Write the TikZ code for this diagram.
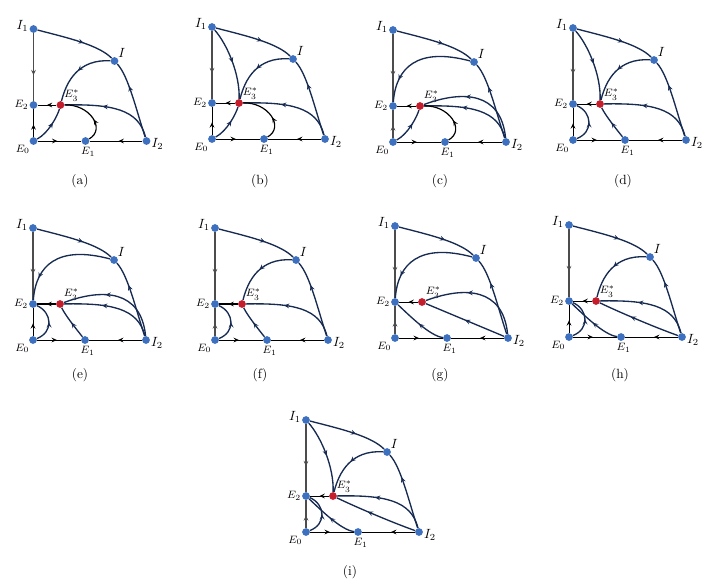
\documentclass[tikz,border=0pt]{standalone}
\usetikzlibrary{arrows.meta,decorations.markings}
\definecolor{dotblue}{RGB}{62,112,192}
\definecolor{dotred}{RGB}{196,30,45}
\definecolor{navy}{RGB}{22,42,82}
\tikzset{
 bdot/.style={circle,fill=dotblue,inner sep=0pt,minimum size=5.8pt},
 rdot/.style={circle,fill=dotred,inner sep=0pt,minimum size=5.8pt},
 ilbl/.style={font=\normalsize,inner sep=0.5pt},
 elbl/.style={font=\footnotesize,inner sep=0.5pt},
 ma/.style={postaction={decorate,decoration={markings,mark=at position #1 with {\arrow{Stealth[length=4pt,width=3.6pt,inset=1.5pt]}}}}},
 ma/.default=0.5,
 orb/.style={navy,line width=1pt},
 blk/.style={black,line width=0.75pt},
 axg/.style={black!70,line width=0.8pt},
 captxt/.style={font=\normalsize,inner sep=1pt}
}
\newcommand\basenodes{%
 \node[bdot,label={[ilbl,yshift=2pt]left:$I_1$}] (I1) at (0,-112) {};
 \node[bdot,label={[ilbl]above right:$I$}] (I) at (81,-80) {};
 \node[bdot,label={[elbl]left:$E_2$}] (E2) at (0,-36) {};
 \node[bdot,label={[elbl]below left:$E_0$}] (E0) at (0,0) {};
 \node[bdot,label={[elbl,xshift=2pt,yshift=-1pt]below:$E_1$}] (E1) at (52,0) {};
 \node[bdot,label={[ilbl,yshift=-2pt]right:$I_2$}] (I2) at (113,0) {};
 \node[rdot,label={[elbl]above right:$E_3^*$}] (E3) at (27,-36) {};
}
\newcommand\baselines[1]{%
 \draw[orb,ma=0.6] (I1) .. controls (35,-103) and (65,-96) .. (I);
 \draw[orb,ma=0.68] (I2) .. controls (103,-30) and (95,-65) .. (I);
 \draw[blk,ma=0.45] (E0) -- (E1);
 \draw[blk,ma=0.45] (I2) -- (E1);
 \draw[blk,ma=0.5,#1] (E3) -- (E2);
 \draw[axg,ma=0.62] (I1) -- (E2);
}
\newcommand\lowaxis[1]{\draw[#1,ma=0.45] (E0) -- (E2);}
\newcommand\cIEthree{\draw[orb,ma=0.5] (I) .. controls (45,-82) and (33,-60) .. (E3);}
\newcommand\cEzeroEthree{\draw[orb,ma=0.6] (E0) .. controls (15,-8) and (24,-25) .. (E3);}
\newcommand\cItwoEthreeh{\draw[orb,ma=0.6] (I2) .. controls (105,-32) and (78,-37) .. (E3);}
\newcommand\cEoneEthreeloop{\draw[blk,line width=0.9pt,ma=0.4] (E1) .. controls (73,-12) and (56,-37) .. (E3);}
\newcommand\cIoneEthree{\draw[orb,ma=0.5] (I1) .. controls (15,-95) and (28,-65) .. (E3);}
\newcommand\cIEtwo{\draw[orb,ma=0.78] (I) .. controls (25,-95) and (3,-75) .. (E2);}
\newcommand\cItwoEthreeup{\draw[orb,ma=0.6] (I2) .. controls (108,-50) and (70,-52) .. (E3);}
\newcommand\cEoneEthreenavy{\draw[orb,ma=0.5] (E1) .. controls (44,-10) and (32,-25) .. (E3);}
\newcommand\cEzeroEtwobump{\draw[orb,ma=0.5] (E0) .. controls (21,-8) and (19,-28) .. (E2);}
\newcommand\cItwoEthreest{\draw[orb,ma=0.5] (I2) -- (E3);}
\newcommand\cItwoEthreelow{\draw[orb,ma=0.6] (I2) .. controls (85,-10) and (50,-25) .. (E3);}
\newcommand\cEoneEtwo{\draw[orb,ma=0.5] (E1) .. controls (35,-2) and (15,-22) .. (E2);}
\begin{document}
\begin{tikzpicture}[x=0.75pt,y=-0.75pt]
\useasboundingbox (0,0) rectangle (706,583);
% (a)
\begin{scope}[shift={(33.5,141)},name prefix=a-]
 \basenodes \baselines{} \lowaxis{blk}
 \cIEthree \cEzeroEthree \cItwoEthreeh \cEoneEthreeloop
\end{scope}
% (b)
\begin{scope}[shift={(212,139)},name prefix=b-]
 \basenodes \baselines{} \lowaxis{blk}
 \cIEthree \cEzeroEthree \cItwoEthreeh \cEoneEthreeloop \cIoneEthree
\end{scope}
% (c)
\begin{scope}[shift={(393,142)},name prefix=c-]
 \basenodes \baselines{} \lowaxis{axg}
 \cIEtwo \cEzeroEthree \cItwoEthreeh \cItwoEthreeup \cEoneEthreeloop
\end{scope}
% (d)
\begin{scope}[shift={(573,140)},name prefix=d-]
 \basenodes \baselines{} \lowaxis{blk}
 \cIoneEthree \cIEthree \cItwoEthreeh \cEoneEthreenavy \cEzeroEtwobump
\end{scope}
% (e)
\begin{scope}[shift={(33,340)},name prefix=e-]
 \basenodes \baselines{line width=1.5pt} \lowaxis{blk}
 \cIEtwo \cItwoEthreeh \cItwoEthreeup \cEoneEthreenavy \cEzeroEtwobump
\end{scope}
% (f)
\begin{scope}[shift={(215,340)},name prefix=f-]
 \basenodes \baselines{line width=1.5pt} \lowaxis{axg}
 \cIEthree \cItwoEthreeh \cEoneEthreenavy \cEzeroEtwobump
\end{scope}
% (g)
\begin{scope}[shift={(395,338)},name prefix=g-]
 \basenodes \baselines{} \lowaxis{axg}
 \cIEtwo \cItwoEthreeup \cItwoEthreest \cEoneEtwo
\end{scope}
% (h)
\begin{scope}[shift={(569,337)},name prefix=h-]
 \basenodes \baselines{} \lowaxis{blk}
 \cIEthree \cItwoEthreeh \cItwoEthreelow \cEoneEtwo \cEzeroEtwobump
\end{scope}
% (i)
\begin{scope}[shift={(306,532)},name prefix=i-]
 \basenodes \baselines{} \lowaxis{axg}
 \cIoneEthree \cIEthree \cItwoEthreeh \cItwoEthreelow \cEoneEtwo \cEzeroEtwobump
\end{scope}
\node[captxt] (capa) at (80,181) {(a)};
\node[captxt] (capb) at (260,181) {(b)};
\node[captxt] (capc) at (440,181) {(c)};
\node[captxt] (capd) at (623,181) {(d)};
\node[captxt] (cape) at (80,375) {(e)};
\node[captxt] (capf) at (260,375) {(f)};
\node[captxt] (capg) at (440,375) {(g)};
\node[captxt] (caph) at (620,375) {(h)};
\node[captxt] (capi) at (350,572) {(i)};
\end{tikzpicture}
\end{document}
